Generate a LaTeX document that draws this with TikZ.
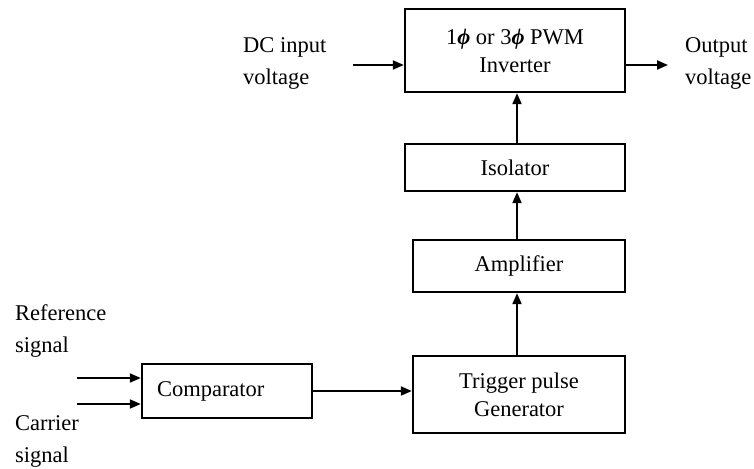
\documentclass[tikz,border=0pt]{standalone}
\usepackage{fontspec}
\setmainfont{Liberation Serif}
\usetikzlibrary{arrows.meta}
\newcommand{\bphi}{\textbf{\textit{ϕ}}}
\begin{document}
\begin{tikzpicture}[x=1pt,y=-1pt,
  blk/.style={draw,line width=2.4pt,inner sep=0pt,align=center,font=\fontsize{22.5}{28}\selectfont},
  lbl/.style={inner sep=0pt,align=left,font=\fontsize{22.5}{32}\selectfont},
  arr/.style={line width=2pt,-{Triangle[length=11pt,width=9pt]}}]
\useasboundingbox (0,0) rectangle (754,468);
\node[blk,minimum width=220pt,minimum height=83pt] (inv) at (515,50.5) {1\bphi{} or 3\bphi{} PWM\\Inverter};
\node[blk,minimum width=220pt,minimum height=47pt] (iso) at (515,167.5) {Isolator};
\node[blk,minimum width=212pt,minimum height=52pt] (amp) at (519,266) {Amplifier};
\node[blk,minimum width=212pt,minimum height=77pt] (trig) at (519,394.5) {Trigger pulse\\Generator};
\node[blk,minimum width=170pt,minimum height=54pt,align=left,text width=140pt] (comp) at (227,391) {\raisebox{3pt}{Comparator}};
\node[lbl,anchor=west] (dc) at (243,63) {DC input\\voltage};
\node[lbl,anchor=west] (out) at (685,63) {Output\\voltage};
\node[lbl,anchor=west] (ref) at (15,331) {Reference\\signal};
\node[lbl,anchor=west] (car) at (15,441) {Carrier\\signal};
\coordinate (dcin) at (353,65);
\coordinate (outend) at (668,65);
\coordinate (refin) at (77,378);
\coordinate (carin) at (77,404);
\draw[arr] (dcin) -- (inv.west |- dcin);
\draw[arr] (inv.east |- outend) -- (outend);
\draw[arr] ([xshift=-2pt]trig.north) -- ([xshift=-2pt]trig.north |- amp.south);
\draw[arr] ([xshift=-2pt]amp.north) -- ([xshift=-2pt]amp.north |- iso.south);
\draw[arr] ([xshift=2pt]iso.north) -- ([xshift=2pt]iso.north |- inv.south);
\draw[arr] (refin) -- (comp.west |- refin);
\draw[arr] (carin) -- (comp.west |- carin);
\draw[arr] (comp.east) -- (trig.west |- comp.east);
\end{tikzpicture}
\end{document}
